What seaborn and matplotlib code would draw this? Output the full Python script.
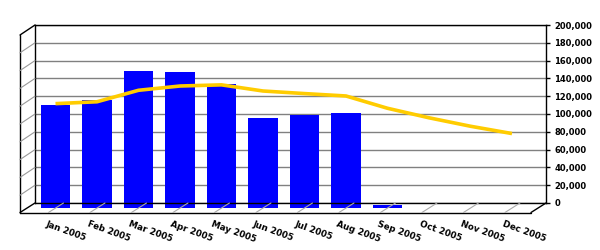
import numpy as np
import pandas as pd
import matplotlib
matplotlib.use("Agg")
import matplotlib.pyplot as plt
import matplotlib.transforms as mtransforms
from matplotlib.lines import Line2D
import seaborn as sns

months = ["Jan 2005", "Feb 2005", "Mar 2005", "Apr 2005", "May 2005", "Jun 2005",
          "Jul 2005", "Aug 2005", "Sep 2005", "Oct 2005", "Nov 2005", "Dec 2005"]
actual = [115200, 120400, 152900, 151800, 139200, 100600,
          104400, 106700, 2800, 0, 0, 0]
trend = [116700, 118800, 131700, 136500, 137800, 130900,
         128000, 125300, 111500, 100800, 91300, 83100]
y_ticks = list(range(0, 200001, 20000))

sns.set_style("white")
plt.rcParams["font.family"] = ["DejaVu Sans"]
plt.rcParams["text.color"] = "black"
plt.rcParams["xtick.color"] = "black"
plt.rcParams["ytick.color"] = "black"

W, H = 600, 250
fig = plt.figure(figsize=(6, 2.5), dpi=100)
fig.patch.set_facecolor("white")
# back wall
ax = fig.add_axes([35 / W, 1 - 203 / H, 511 / W, 178 / H])
ax.set_facecolor("white")

df = pd.DataFrame({"month": months, "actual": actual})
sns.barplot(data=df, x="month", y="actual", color="#0000FF", saturation=1,
            width=0.70, ax=ax, edgecolor="none", linewidth=0)
sns.lineplot(x=np.arange(len(months)), y=trend, color="#FFCC00", lw=2.6, ax=ax)

ax.set_xlim(-0.494, 11.82)
ax.set_ylim(0, 200000)

# depth offset: bars and line sit slightly in front of the back wall
off = mtransforms.ScaledTranslation(0, -0.045, fig.dpi_scale_trans)
for p in ax.patches:
    p.set_transform(ax.transData + off)
    p.set_clip_on(False)
for ln in ax.lines:
    ln.set_transform(ax.transData + off)
    ln.set_clip_on(False)
    ln.set_solid_capstyle("butt")

# grid and spines
ax.set_yticks(y_ticks)
ax.yaxis.grid(True, color="#808080", lw=1)
ax.xaxis.grid(False)
ax.set_axisbelow(True)
for s in ax.spines.values():
    s.set_visible(True)
    s.set_color("black")
    s.set_linewidth(1)

ax.yaxis.tick_right()
ax.yaxis.set_label_position("right")
ax.set_yticklabels([f"{v:,}" for v in y_ticks], fontsize=6, fontweight="bold",
                   color="black")
ax.tick_params(axis="y", which="both", right=True, left=False, length=3,
               width=1, color="black", pad=3, labelsize=6, labelcolor="black")
ax.set_xlabel("")
ax.set_ylabel("")

ax.set_xticks(range(len(months)))
ax.set_xticklabels(months, fontsize=6.3, fontweight="bold", rotation=-20,
                   ha="left", va="top", rotation_mode="anchor", color="black")
ax.tick_params(axis="x", length=0, pad=0, labelcolor="black")
lab_off = mtransforms.ScaledTranslation(-0.08, -0.165, fig.dpi_scale_trans)
for lab in ax.get_xticklabels():
    lab.set_transform(lab.get_transform() + lab_off)

# pseudo-3D decorations (left wall and floor) in figure pixel coordinates
def fl(xs, ys, color="black", lw=1):
    fig.add_artist(Line2D([x / W for x in xs], [1 - y / H for y in ys],
                          transform=fig.transFigure, color=color, lw=lw))

dy = 9.5
fl([20, 20], [35, 203 + dy])               # left wall front edge
fl([20, 35], [35, 25])                      # left wall top
fl([20, 35], [203 + dy, 203])               # floor left
fl([20, 531], [203 + dy, 203 + dy])         # floor front
fl([531, 546], [203 + dy, 203])             # floor right
for v in y_ticks[1:-1]:
    yb = ax.transData.transform((0, v))[1]
    ypx = H - yb
    fl([20, 35], [ypx + 10, ypx], color="#999999", lw=0.8)
for i in range(len(months)):
    xd = ax.transData.transform((i, 0))[0]
    fl([xd - 7, xd + 8], [203 + dy, 203], color="#AAAAAA", lw=0.8)

fig.savefig("out.png", dpi=100, facecolor="white")
